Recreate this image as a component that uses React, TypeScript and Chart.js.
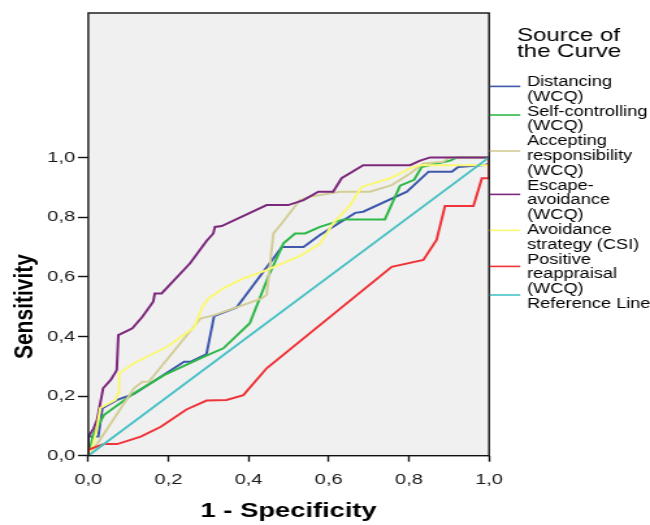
import React, { useEffect, useRef } from "react";
import { Chart, registerables } from "chart.js";

Chart.register(...registerables);

// ---------- data ----------
const seriesNames = [
  "Distancing (WCQ)",
  "Self-controlling (WCQ)",
  "Accepting responsibility (WCQ)",
  "Escape-avoidance (WCQ)",
  "Avoidance strategy (CSI)",
  "Positive reappraisal (WCQ)",
  "Reference Line",
];

const legendLines: string[][] = [
  ["Distancing", "(WCQ)"],
  ["Self-controlling", "(WCQ)"],
  ["Accepting", "responsibility", "(WCQ)"],
  ["Escape-", "avoidance", "(WCQ)"],
  ["Avoidance", "strategy (CSI)"],
  ["Positive", "reappraisal", "(WCQ)"],
  ["Reference Line"],
];

const seriesColors = ["#3E58AC", "#2EB848", "#D3CE97", "#7C287D", "#FBF873", "#EF3338", "#48C2C5"];

const distancing: number[][] = [
  [0, 0], [0, 0.064], [0.025, 0.064], [0.035, 0.159], [0.072, 0.187], [0.114, 0.207],
  [0.239, 0.315], [0.255, 0.315], [0.295, 0.341], [0.314, 0.468], [0.37, 0.497],
  [0.483, 0.7], [0.537, 0.7], [0.578, 0.74], [0.666, 0.814], [0.686, 0.818],
  [0.795, 0.885], [0.849, 0.952], [0.907, 0.952], [0.923, 0.968], [0.99, 0.974], [1, 0.98], [1, 1],
];

const selfControlling: number[][] = [
  [0, 0], [0.003, 0.013], [0.012, 0.07], [0.039, 0.136], [0.114, 0.209], [0.189, 0.27],
  [0.289, 0.332], [0.337, 0.36], [0.403, 0.444], [0.449, 0.6], [0.487, 0.712],
  [0.516, 0.745], [0.541, 0.745], [0.578, 0.767], [0.637, 0.792], [0.74, 0.792],
  [0.778, 0.905], [0.813, 0.925], [0.832, 0.968], [0.903, 0.989], [0.92, 1], [1, 1],
];

const acceptingResponsibility: number[][] = [
  [0, 0], [0.008, 0.02], [0.023, 0.041], [0.114, 0.226], [0.135, 0.248], [0.151, 0.248],
  [0.28, 0.46], [0.316, 0.472], [0.37, 0.497], [0.433, 0.527], [0.445, 0.539],
  [0.462, 0.745], [0.483, 0.779], [0.528, 0.857], [0.553, 0.868], [0.628, 0.885],
  [0.703, 0.885], [0.757, 0.907], [0.803, 0.946], [0.836, 0.98], [0.886, 0.985], [0.9, 1], [1, 1],
];

const escapeAvoidance: number[][] = [
  [0, 0], [0, 0.064], [0.013, 0.09], [0.022, 0.12], [0.037, 0.226], [0.056, 0.254],
  [0.071, 0.287], [0.075, 0.404], [0.093, 0.416], [0.11, 0.427], [0.135, 0.466],
  [0.162, 0.516], [0.166, 0.544], [0.183, 0.544], [0.254, 0.645], [0.295, 0.72],
  [0.312, 0.745], [0.316, 0.767], [0.333, 0.77], [0.445, 0.84], [0.499, 0.84],
  [0.537, 0.857], [0.574, 0.885], [0.611, 0.885], [0.632, 0.93], [0.686, 0.974],
  [0.803, 0.974], [0.828, 0.989], [0.853, 1], [1, 1],
];

const avoidanceStrategy: number[][] = [
  [0, 0], [0.01, 0.03], [0.02, 0.08], [0.03, 0.16], [0.068, 0.187], [0.075, 0.21],
  [0.077, 0.276], [0.114, 0.31], [0.197, 0.365], [0.264, 0.43], [0.285, 0.5],
  [0.3, 0.527], [0.337, 0.561], [0.387, 0.594], [0.445, 0.622], [0.528, 0.67],
  [0.578, 0.71], [0.611, 0.779], [0.653, 0.84], [0.682, 0.901], [0.753, 0.93],
  [0.803, 0.963], [0.828, 0.974], [1, 0.974], [1, 1],
];

const positiveReappraisal: number[][] = [
  [0, 0], [0, 0.02], [0.039, 0.039], [0.072, 0.039], [0.131, 0.064], [0.181, 0.097],
  [0.245, 0.155], [0.295, 0.185], [0.345, 0.187], [0.387, 0.203], [0.445, 0.293],
  [0.757, 0.633], [0.836, 0.656], [0.869, 0.723], [0.89, 0.837], [0.961, 0.837],
  [0.982, 0.93], [1, 0.93], [1, 1],
];

const referenceLine: number[][] = [[0, 0], [1, 1]];

const seriesData = [
  distancing, selfControlling, acceptingResponsibility, escapeAvoidance,
  avoidanceStrategy, positiveReappraisal, referenceLine,
];

const xTickValues = [0, 0.2, 0.4, 0.6, 0.8, 1.0];
const yTickValues = [0, 0.2, 0.4, 0.6, 0.8, 1.0];
const yAxisMax = 1.484;

const xTitle = "1 - Specificity";
const yTitle = "Sensitivity";
const legendTitle = ["Source of", "the Curve"];

// ---------- rendering ----------
const FONT = '"Liberation Sans", Arial, Helvetica, sans-serif';
const fmt = (v: number) => v.toFixed(1).replace(".", ",");

const framePlugin = {
  id: "frame",
  beforeDraw(chart: any) {
    const { ctx, chartArea: a } = chart;
    ctx.save();
    ctx.fillStyle = "#F0F0F0";
    ctx.fillRect(a.left, a.top, a.right - a.left, a.bottom - a.top);
    ctx.restore();
  },
  afterDatasetsDraw(chart: any) {
    const { ctx, chartArea: a } = chart;
    ctx.save();
    ctx.strokeStyle = "#111";
    ctx.lineWidth = 1.4;
    ctx.strokeRect(a.left, a.top, a.right - a.left, a.bottom - a.top);
    ctx.restore();
  },
};

const axisTitlePlugin = {
  id: "axisTitles",
  afterDraw(chart: any) {
    const { ctx, chartArea: a, scales } = chart;
    ctx.save();
    ctx.fillStyle = "#000";
    ctx.font = `bold 21px ${FONT}`;
    ctx.textAlign = "center";
    ctx.textBaseline = "alphabetic";
    ctx.fillText(xTitle, (a.left + a.right) / 2, 517);
    const yMid = scales.y.getPixelForValue(0.5);
    ctx.translate(25, yMid);
    ctx.rotate(-Math.PI / 2);
    ctx.fillText(yTitle, 0, 0);
    ctx.restore();
  },
};

const legendPlugin = {
  id: "sideLegend",
  afterDraw(chart: any) {
    const { ctx, chartArea: a } = chart;
    ctx.save();
    ctx.fillStyle = "#000";
    ctx.textBaseline = "alphabetic";
    ctx.textAlign = "left";
    ctx.font = `18.5px ${FONT}`;
    const tx = a.right + 21.5;
    legendTitle.forEach((t, i) => ctx.fillText(t, tx, 40.7 + i * 16.7));

    ctx.font = `14px ${FONT}`;
    const lx = a.right + 29.2;
    const lh = 14.8;
    let line = 0;
    legendLines.forEach((lines, k) => {
      const first = line;
      lines.forEach((t) => {
        ctx.fillStyle = "#000";
        ctx.fillText(t, lx, 86 + lh * line);
        line++;
      });
      const last = line - 1;
      const mid = 86 + (lh * (first + last)) / 2 - 5;
      const my = mid - 2 - k;
      ctx.strokeStyle = seriesColors[k];
      ctx.lineWidth = 1.6;
      ctx.beginPath();
      ctx.moveTo(a.right + 0.5, my);
      ctx.lineTo(a.right + 24, my);
      ctx.stroke();
    });
    ctx.restore();
  },
};

function App() {
  const ref = useRef<HTMLCanvasElement | null>(null);

  useEffect(() => {
    if (!ref.current) return;
    const chart = new Chart(ref.current, {
      type: "line",
      data: {
        datasets: seriesData.map((pts, i) => ({
          label: seriesNames[i],
          data: pts.map(([x, y]) => ({ x, y })),
          borderColor: seriesColors[i],
          backgroundColor: seriesColors[i],
          borderWidth: 2,
          pointRadius: 0,
          tension: 0,
          fill: false,
          order: -i,
        })),
      },
      options: {
        responsive: false,
        animation: false,
        devicePixelRatio: 1,
        events: [],
        layout: { padding: { left: 0, top: 13, right: 123.8, bottom: 0 } },
        plugins: {
          legend: { display: false },
          tooltip: { enabled: false },
          title: { display: false },
        },
        scales: {
          x: {
            type: "linear",
            min: 0,
            max: 1,
            afterBuildTicks: (s: any) => {
              s.ticks = xTickValues.map((v) => ({ value: v }));
            },
            afterFit: (s: any) => {
              s.height = 69.3;
            },
            ticks: {
              callback: (v: any) => fmt(Number(v)),
              font: { family: FONT, size: 15.5 },
              color: "#1a1a1a",
              padding: 9,
              maxRotation: 0,
            },
            grid: {
              display: true,
              drawOnChartArea: false,
              drawTicks: true,
              tickLength: 6,
              tickColor: "#111",
              tickWidth: 1.4,
            },
            border: { display: false },
            title: { display: false },
          },
          y: {
            type: "linear",
            min: 0,
            max: yAxisMax,
            afterBuildTicks: (s: any) => {
              s.ticks = yTickValues.map((v) => ({ value: v }));
            },
            afterFit: (s: any) => {
              s.width = 67.9;
            },
            ticks: {
              callback: (v: any) => fmt(Number(v)),
              font: { family: FONT, size: 15.5 },
              color: "#1a1a1a",
              padding: 2,
            },
            grid: {
              display: true,
              drawOnChartArea: false,
              drawTicks: true,
              tickLength: 8,
              tickColor: "#111",
              tickWidth: 1.4,
            },
            border: { display: false },
            title: { display: false },
          },
        },
      },
      plugins: [framePlugin, axisTitlePlugin, legendPlugin],
    } as any);
    return () => chart.destroy();
  }, []);

  return (
    <div style={{ position: "absolute", left: 0, top: 0, width: 650, height: 525, background: "#fff" }}>
      <canvas
        ref={ref}
        width={500}
        height={525}
        style={{ width: "650px", height: "525px", display: "block" }}
      />
    </div>
  );
}

export default App;
